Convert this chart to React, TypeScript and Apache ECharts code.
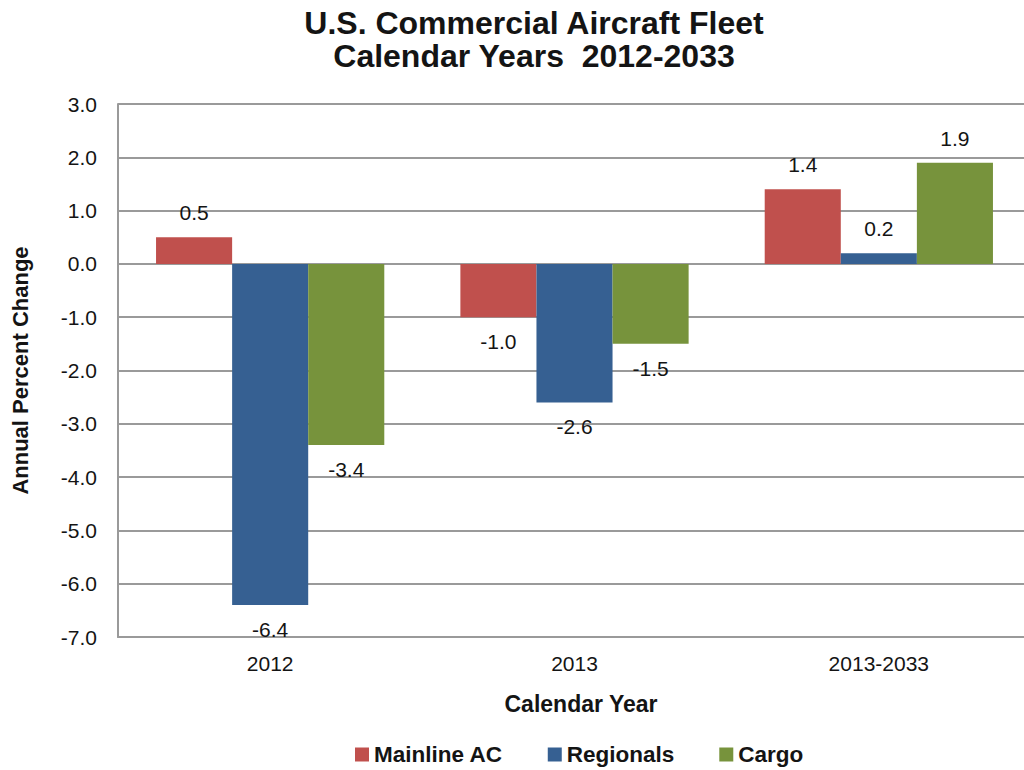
import React, { useEffect, useRef } from "react";
import * as echarts from "echarts";

const categories = ["2012", "2013", "2013-2033"];
const mainlineAC = [0.5, -1.0, 1.4];
const regionals = [-6.4, -2.6, 0.2];
const cargo = [-3.4, -1.5, 1.9];
const seriesNames = ["Mainline AC", "Regionals", "Cargo"];
const seriesColors = ["#C0504D", "#366092", "#77933C"];

const FONT = "'Liberation Sans', Arial, sans-serif";
const TEXT = "#141414";
const GRID = "#9a9a9a";

export default function App() {
  const ref = useRef<HTMLDivElement>(null);
  useEffect(() => {
    if (!ref.current) return;
    const chart = echarts.init(ref.current, null, { renderer: "svg" });
    const label = {
      show: true,
      position: "outside" as any,
      distance: 14,
      fontSize: 21,
      fontFamily: FONT,
      color: TEXT,
      formatter: (p: any) => Number(p.value).toFixed(1),
    };
    const mk = (name: string, data: number[], color: string) => ({
      name,
      type: "bar",
      data,
      barGap: "0%",
      barCategoryGap: "25%",
      itemStyle: { color },
      label,
    });
    chart.setOption({
      animation: false,
      backgroundColor: "#ffffff",
      color: seriesColors,
      title: {
        text: "U.S. Commercial Aircraft Fleet\nCalendar Years  2012-2033",
        left: 529,
        top: 1,
        textAlign: "center",
        textStyle: {
          fontFamily: FONT,
          fontSize: 32,
          fontWeight: "bold",
          color: TEXT,
          lineHeight: 33,
        },
      },
      legend: {
        data: seriesNames,
        left: 355,
        top: 743,
        padding: 0,
        itemWidth: 14,
        itemHeight: 14,
        itemGap: 45,
        icon: "rect",
        textStyle: {
          fontFamily: FONT,
          fontSize: 22.5,
          fontWeight: "bold",
          color: TEXT,
        },
      },
      grid: { left: 118, top: 104, width: 913, height: 533, containLabel: false },
      xAxis: {
        type: "category",
        data: categories,
        name: "Calendar Year",
        nameLocation: "middle",
        nameGap: 55,
        nameTextStyle: {
          fontFamily: FONT,
          fontSize: 23,
          fontWeight: "bold",
          color: TEXT,
          padding: [0, 0, 0, 13],
        },
        axisLine: { show: true, onZero: false, lineStyle: { color: GRID, width: 2 } },
        axisTick: { show: false },
        axisLabel: { fontFamily: FONT, fontSize: 21, color: TEXT, margin: 16 },
        splitLine: { show: false },
      },
      yAxis: {
        type: "value",
        min: -7,
        max: 3,
        interval: 1,
        name: "Annual Percent Change",
        nameLocation: "middle",
        nameGap: 87,
        nameRotate: 90,
        nameTextStyle: {
          fontFamily: FONT,
          fontSize: 22,
          fontWeight: "bold",
          color: TEXT,
        },
        axisLine: { show: true, lineStyle: { color: GRID, width: 2 } },
        axisTick: { show: false },
        axisLabel: {
          fontFamily: FONT,
          fontSize: 21,
          color: TEXT,
          margin: 21,
          formatter: (v: number) => v.toFixed(1),
        },
        splitLine: { show: true, lineStyle: { color: GRID, width: 2 } },
      },
      series: [
        mk(seriesNames[0], mainlineAC, seriesColors[0]),
        mk(seriesNames[1], regionals, seriesColors[1]),
        mk(seriesNames[2], cargo, seriesColors[2]),
      ],
    });
    return () => chart.dispose();
  }, []);
  return (
    <div
      style={{
        position: "absolute",
        left: 0,
        top: 0,
        width: 1024,
        height: 770,
        overflow: "hidden",
        background: "#fff",
      }}
    >
      <div ref={ref} style={{ width: 1040, height: 770 }} />
    </div>
  );
}
